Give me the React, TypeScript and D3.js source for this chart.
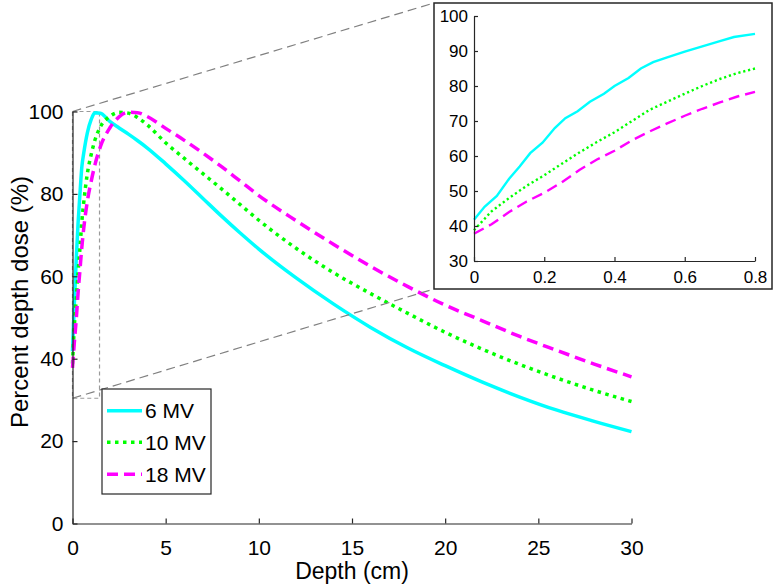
import React, { useEffect, useRef } from "react"
import { scaleLinear, line, curveMonotoneX, curveLinear, axisBottom, axisLeft, select } from "d3"

/** Main chart data: depth (cm) and percent depth dose per beam */
const depth = [0, 0.1, 0.2, 0.3, 0.4, 0.5, 0.6, 0.8, 1.0, 1.2, 1.5, 2, 2.5, 3, 3.5, 4, 5, 6, 7, 8, 9, 10, 12, 14, 16, 18, 20, 22, 24, 26, 28, 30]
const dose6 = [41.8, 53.5, 64, 73, 80, 86.5, 89.8, 94.9, 98, 99.7, 99.6, 97.6, 96, 94.5, 92.9, 91.2, 87.3, 83.2, 78.9, 74.6, 70.5, 66.6, 59.6, 53.3, 47.6, 42.6, 38.3, 34.3, 30.7, 27.5, 24.8, 22.3]
const dose10 = [38.8, 48, 54.5, 61, 66.8, 73.2, 77.8, 85, 89.5, 93, 96.3, 98.8, 99.8, 99.6, 98.5, 96.8, 92.4, 88.6, 84.9, 81.2, 77.4, 73.6, 66.8, 60.9, 55.8, 51, 46.4, 42.3, 38.6, 35.3, 32.3, 29.6]
const dose18 = [37.8, 44, 49.5, 56, 61.5, 67, 71.5, 78.3, 83, 87, 91.5, 96, 98.7, 99.8, 99.7, 98.8, 95.9, 93.0, 89.9, 86.6, 83.1, 79.6, 73.5, 67.8, 62.4, 57.5, 53, 49.2, 45.4, 42, 38.7, 35.6]

/** Inset data: build-up region */
const insetDepth6 = [0, 0.03, 0.065, 0.1, 0.13, 0.16, 0.195, 0.23, 0.26, 0.295, 0.33, 0.37, 0.4, 0.44, 0.475, 0.51, 0.55, 0.6, 0.65, 0.7, 0.74, 0.8]
const insetDose6 = [41.8, 45.5, 48.6, 53.5, 57, 60.8, 63.8, 68, 70.8, 72.8, 75.5, 77.8, 80, 82.3, 85, 86.8, 88.2, 89.8, 91.3, 92.8, 94, 94.9]
const insetDepth = [0, 0.05, 0.1, 0.15, 0.2, 0.25, 0.3, 0.35, 0.4, 0.45, 0.5, 0.55, 0.6, 0.65, 0.7, 0.75, 0.8]
const insetDose10 = [38.8, 44.2, 48, 51.5, 54.5, 57.8, 61, 64, 66.8, 70, 73.2, 75.5, 77.8, 80, 82, 83.7, 85]
const insetDose18 = [37.8, 40.5, 44, 47, 49.5, 52.5, 56, 59, 61.5, 64.5, 67, 69.3, 71.5, 73.5, 75.3, 77, 78.3]

/** Labels and ticks */
const seriesNames = ["6 MV", "10 MV", "18 MV"]
const mainXTicks = [0, 5, 10, 15, 20, 25, 30]
const mainYTicks = [0, 20, 40, 60, 80, 100]
const insetXTicks = [0, 0.2, 0.4, 0.6, 0.8]
const insetYTicks = [30, 40, 50, 60, 70, 80, 90, 100]
const zoomDepth = [0, 1.45]
const zoomDose = [30.4, 100]

const FONT = "'Liberation Sans', Arial, Helvetica, sans-serif"
const AXIS = "#262626"

const styles = [
	{ color: "#00ffff", dash: null, width: 3.5, insetDash: null, insetWidth: 2.4 },
	{ color: "#00ff00", dash: "3.5 4.5", width: 3.5, insetDash: "2.2 2.8", insetWidth: 2.4 },
	{ color: "#ff00ff", dash: "11 6", width: 3.5, insetDash: "11 6", insetWidth: 2.4 }
]

export default function App() {
	const width = 777
	const height = 584

	/** Main plot area */
	const xScale = scaleLinear().domain([0, 30]).range([72.5, 631.5])
	const yScale = scaleLinear().domain([0, 100]).range([523.5, 111.5])

	/** Inset plot area */
	const box = { x0: 434, y0: 3, x1: 772, y1: 289 }
	const ixScale = scaleLinear().domain([0, 0.8]).range([474, 755])
	const iyScale = scaleLinear().domain([30, 100]).range([261, 16])

	const mainLine = line<[number, number]>()
		.x(d => xScale(d[0]))
		.y(d => yScale(d[1]))
		.curve(curveMonotoneX)
	const insetLine = line<[number, number]>()
		.x(d => ixScale(d[0]))
		.y(d => iyScale(d[1]))
		.curve(curveLinear)

	const mainSeries = [dose6, dose10, dose18].map(vals => vals.map((v, i) => [depth[i], v] as [number, number]))
	const insetSeries = [
		insetDose6.map((v, i) => [insetDepth6[i], v] as [number, number]),
		insetDose10.map((v, i) => [insetDepth[i], v] as [number, number]),
		insetDose18.map((v, i) => [insetDepth[i], v] as [number, number])
	]

	const xAxisRef = useRef<SVGGElement>(null)
	const yAxisRef = useRef<SVGGElement>(null)
	const ixAxisRef = useRef<SVGGElement>(null)
	const iyAxisRef = useRef<SVGGElement>(null)

	useEffect(() => {
		const styleAxis = (g: any, size: number) => {
			g.select(".domain").attr("stroke", AXIS).attr("stroke-width", 1.2)
			g.selectAll(".tick line").attr("stroke", AXIS).attr("stroke-width", 1.2)
			g.selectAll(".tick text").attr("fill", "#000").style("font-family", FONT).style("font-size", size + "px")
		}
		const xg = select(xAxisRef.current)
		xg.call(axisBottom(xScale).tickValues(mainXTicks).tickSize(-5).tickSizeOuter(0).tickPadding(17).tickFormat(d => String(d)))
		styleAxis(xg, 21)
		const yg = select(yAxisRef.current)
		yg.call(axisLeft(yScale).tickValues(mainYTicks).tickSize(-5).tickSizeOuter(0).tickPadding(9).tickFormat(d => String(d)))
		styleAxis(yg, 21)
		const ixg = select(ixAxisRef.current)
		ixg.call(axisBottom(ixScale).tickValues(insetXTicks).tickSize(-4).tickSizeOuter(0).tickPadding(10).tickFormat(d => String(d)))
		styleAxis(ixg, 17)
		const iyg = select(iyAxisRef.current)
		iyg.call(axisLeft(iyScale).tickValues(insetYTicks).tickSize(-4).tickSizeOuter(0).tickPadding(6).tickFormat(d => String(d)))
		styleAxis(iyg, 17)
	}, [])

	const legendX = 102
	const legendY = 389
	const legendRowY = [410.7, 442.3, 474.3]

	return (
		<svg width={width} height={height} style={{ position: "absolute", left: 0, top: 0, background: "#fff" }}>
			{/* zoom box on the main plot */}
			<rect
				x={xScale(zoomDepth[0])}
				y={yScale(zoomDose[1])}
				width={xScale(zoomDepth[1]) - xScale(zoomDepth[0])}
				height={yScale(zoomDose[0]) - yScale(zoomDose[1])}
				fill="none"
				stroke="#9a9a9a"
				strokeWidth={1.2}
				strokeDasharray="4 3"
			/>

			{/* curves */}
			{mainSeries.map((s, i) => (
				<path
					key={seriesNames[i]}
					d={mainLine(s) || ""}
					fill="none"
					stroke={styles[i].color}
					strokeWidth={styles[i].width}
					strokeDasharray={styles[i].dash || undefined}
				/>
			))}

			{/* connectors */}
			<line x1={xScale(zoomDepth[0])} y1={yScale(zoomDose[1])} x2={box.x0} y2={box.y0} stroke="#808080" strokeWidth={1.2} strokeDasharray="9 5" />
			<line x1={xScale(zoomDepth[0])} y1={yScale(zoomDose[0])} x2={box.x0} y2={box.y1} stroke="#808080" strokeWidth={1.2} strokeDasharray="9 5" />

			<g ref={yAxisRef} transform={`translate(${xScale(0)},0)`} />
			<g ref={xAxisRef} transform={`translate(0,${yScale(0)})`} />

			<text x={xScale(15)} y={579} textAnchor="middle" fontFamily={FONT} fontSize={23}>Depth (cm)</text>
			<text transform={`translate(28,302) rotate(-90)`} textAnchor="middle" fontFamily={FONT} fontSize={24}>
				Percent depth dose (%)
			</text>

			{/* legend */}
			<rect x={legendX} y={legendY} width={109} height={105} fill="#fff" stroke={AXIS} strokeWidth={1.2} />
			{seriesNames.map((name, i) => (
				<g key={name}>
					<line x1={107} x2={142} y1={legendRowY[i]} y2={legendRowY[i]} stroke={styles[i].color} strokeWidth={styles[i].width} strokeDasharray={styles[i].dash || undefined} />
					<text x={145} y={legendRowY[i]} dy="0.36em" fontFamily={FONT} fontSize={21}>{name}</text>
				</g>
			))}

			{/* inset */}
			<rect x={box.x0} y={box.y0} width={box.x1 - box.x0} height={box.y1 - box.y0} fill="#fff" stroke={AXIS} strokeWidth={1.5} />
			{insetSeries.map((s, i) => (
				<path
					key={"inset" + seriesNames[i]}
					d={insetLine(s) || ""}
					fill="none"
					stroke={styles[i].color}
					strokeWidth={styles[i].insetWidth}
					strokeDasharray={styles[i].insetDash || undefined}
				/>
			))}
			<g ref={iyAxisRef} transform={`translate(${ixScale(0)},0)`} />
			<g ref={ixAxisRef} transform={`translate(0,${iyScale(30)})`} />
		</svg>
	)
}
